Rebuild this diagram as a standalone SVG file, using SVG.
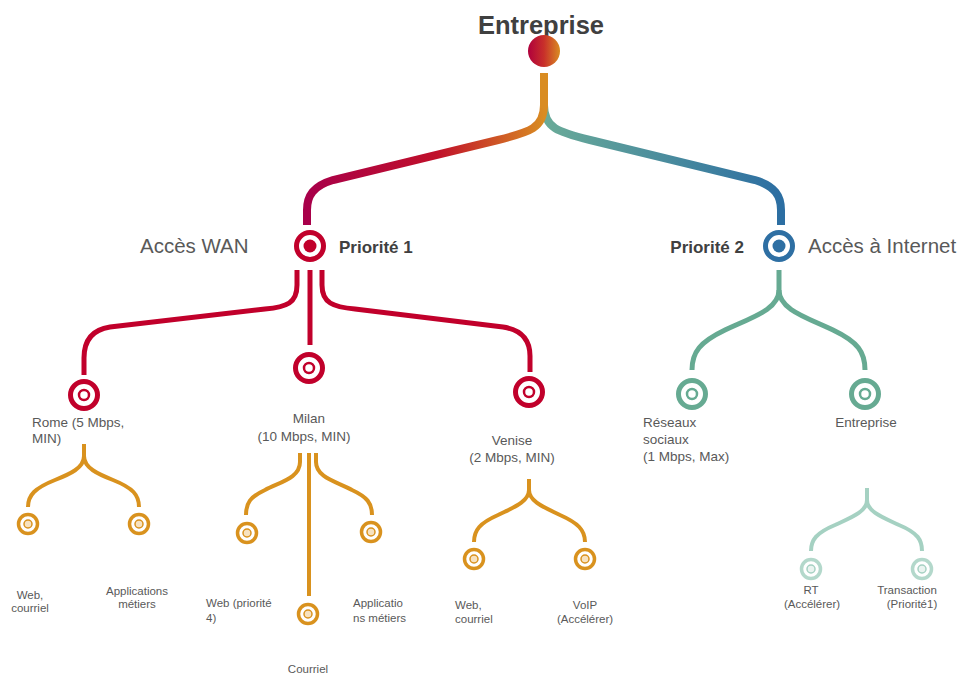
<svg xmlns="http://www.w3.org/2000/svg" width="977" height="675" viewBox="0 0 977 675">
<defs>
<linearGradient id="gTop" x1="0" y1="0" x2="1" y2="0"><stop offset="0" stop-color="#b0003c"/><stop offset="0.5" stop-color="#c8302a"/><stop offset="1" stop-color="#d98c22"/></linearGradient>
<linearGradient id="gLeft" gradientUnits="userSpaceOnUse" x1="544" y1="0" x2="307" y2="0"><stop offset="0" stop-color="#d98c22"/><stop offset="0.45" stop-color="#c0102a"/><stop offset="1" stop-color="#a8004a"/></linearGradient>
<linearGradient id="gRight" gradientUnits="userSpaceOnUse" x1="544" y1="0" x2="781" y2="0"><stop offset="0" stop-color="#6aab98"/><stop offset="1" stop-color="#2c6ea2"/></linearGradient>
</defs>
<style>
text{font-family:"Liberation Sans",Arial,sans-serif;fill:#595959}
.big{font-size:20.5px}
.bold{font-weight:bold;fill:#404040}
.mid{font-size:13.5px}
.sm{font-size:11.5px}
.c{fill:none;stroke-linecap:butt}
.cr{stroke:#c1002b;stroke-width:5}
.te{stroke:#66aa92;stroke-width:5}
.or{stroke:#d9921e;stroke-width:4}
.lt{stroke:#a5d1c2;stroke-width:4}
</style>
<g id="connectors">
<path class="c" d="M544,105 C544,128 558,132 590,140 L755,180 C775,186 781,196 781,210 V225" stroke="url(#gRight)" stroke-width="8"/>
<path class="c" d="M544,105 C544,128 530,132 498,140 L333,180 C313,186 307,196 307,210 V225" stroke="url(#gLeft)" stroke-width="8"/>
<path class="c" d="M544,73 V108" stroke="#d98c22" stroke-width="8"/>
<path class="c cr" d="M297,270 V285 C297,303 287,307 265,309 L110,327 C90,330 84,343 84,358 V375"/>
<path class="c cr" d="M310,270 V345"/>
<path class="c cr" d="M322,270 V285 C322,303 333,307 355,309 L503,327 C523,330 530,341 530,356 V372"/>
<path class="c te" d="M779,270 V290 C779,310 750,318 725,330 C700,342 692,352 692,370"/>
<path class="c te" d="M779,290 C779,310 808,318 833,330 C858,342 865,352 865,370"/>
<path class="c or" d="M84,444 V456 C84,468 70,474 55,480 C35,488 28,495 28,507"/>
<path class="c or" d="M84,456 C84,468 98,474 113,480 C133,488 139,495 139,507"/>
<path class="c or" d="M300,453 V462 C300,478 280,482 265,490 C250,497 246,503 246,515"/>
<path class="c or" d="M309,453 V596"/>
<path class="c or" d="M316,453 V462 C316,478 338,482 352,490 C367,497 372,503 372,515"/>
<path class="c or" d="M529,479 V490 C529,502 512,508 498,515 C480,523 474,530 474,542"/>
<path class="c or" d="M529,490 C529,502 546,508 560,515 C578,523 585,530 585,542"/>
<path class="c lt" d="M867,488 V500 C867,512 850,518 835,525 C816,533 811,540 811,551"/>
<path class="c lt" d="M867,500 C867,512 884,518 899,525 C918,533 922,540 922,551"/>
</g>
<g id="n-root">
<text x="541" y="34" text-anchor="middle" class="bold" style="font-size:25.5px">Entreprise</text>
<circle cx="544" cy="51" r="16" fill="url(#gTop)"/>
</g>
<g id="n-wan">
<circle cx="310" cy="246" r="13.5" fill="#fff" stroke="#c1002b" stroke-width="5"/>
<circle cx="310" cy="246" r="6.5" fill="#c1002b"/>
<text x="140" y="253" class="big">Accès WAN</text>
<text x="339" y="253" class="bold" style="font-size:17px">Priorité 1</text>
</g>
<g id="n-internet">
<circle cx="779" cy="246" r="13.5" fill="#fff" stroke="#2e6fa3" stroke-width="5"/>
<circle cx="779" cy="246" r="6.5" fill="#2e6fa3"/>
<text x="744" y="253" text-anchor="end" class="bold" style="font-size:17px">Priorité 2</text>
<text x="808" y="253" class="big">Accès à Internet</text>
</g>
<g id="n-rome">
<circle cx="84" cy="395" r="13.5" fill="#fff" stroke="#c1002b" stroke-width="5"/>
<circle cx="84" cy="395" r="5" fill="none" stroke="#c1002b" stroke-width="2.5"/>
<text x="32" y="427" class="mid">Rome (5 Mbps,</text>
<text x="32" y="443" class="mid">MIN)</text>
</g>
<g id="n-milan">
<circle cx="309" cy="368" r="13.5" fill="#fff" stroke="#c1002b" stroke-width="5"/>
<circle cx="309" cy="368" r="5" fill="none" stroke="#c1002b" stroke-width="2.5"/>
<text x="309" y="423" text-anchor="middle" class="mid">Milan</text>
<text x="304" y="441" text-anchor="middle" class="mid">(10 Mbps, MIN)</text>
</g>
<g id="n-venise">
<circle cx="529" cy="392" r="13.5" fill="#fff" stroke="#c1002b" stroke-width="5"/>
<circle cx="529" cy="392" r="5" fill="none" stroke="#c1002b" stroke-width="2.5"/>
<text x="512" y="445" text-anchor="middle" class="mid">Venise</text>
<text x="512" y="462" text-anchor="middle" class="mid">(2 Mbps, MIN)</text>
</g>
<g id="n-reseaux">
<circle cx="692" cy="394" r="13.5" fill="#fff" stroke="#66aa92" stroke-width="5"/>
<circle cx="692" cy="394" r="5" fill="none" stroke="#66aa92" stroke-width="2.5"/>
<text x="643" y="427" class="mid">Réseaux</text>
<text x="643" y="444" class="mid">sociaux</text>
<text x="643" y="461" class="mid">(1 Mbps, Max)</text>
</g>
<g id="n-entreprise2">
<circle cx="865" cy="394" r="13.5" fill="#fff" stroke="#66aa92" stroke-width="5"/>
<circle cx="865" cy="394" r="5" fill="none" stroke="#66aa92" stroke-width="2.5"/>
<text x="866" y="427" text-anchor="middle" class="mid">Entreprise</text>
</g>
<g id="n-rome-web">
<circle cx="28" cy="524" r="9.5" fill="#fff" stroke="#d9921e" stroke-width="3.5"/>
<circle cx="28" cy="524" r="4" fill="#f7e2c0" stroke="#d9921e" stroke-width="1.5"/>
<text x="30" y="599" text-anchor="middle" class="sm">Web,</text>
<text x="30" y="612" text-anchor="middle" class="sm">courriel</text>
</g>
<g id="n-rome-app">
<circle cx="139" cy="524" r="9.5" fill="#fff" stroke="#d9921e" stroke-width="3.5"/>
<circle cx="139" cy="524" r="4" fill="#f7e2c0" stroke="#d9921e" stroke-width="1.5"/>
<text x="137" y="595" text-anchor="middle" class="sm">Applications</text>
<text x="137" y="608" text-anchor="middle" class="sm">métiers</text>
</g>
<g id="n-milan-web">
<circle cx="247" cy="533" r="9.5" fill="#fff" stroke="#d9921e" stroke-width="3.5"/>
<circle cx="247" cy="533" r="4" fill="#f7e2c0" stroke="#d9921e" stroke-width="1.5"/>
<text x="206" y="607" class="sm">Web (priorité</text>
<text x="206" y="622" class="sm">4)</text>
</g>
<g id="n-milan-courriel">
<circle cx="308" cy="614" r="9.5" fill="#fff" stroke="#d9921e" stroke-width="3.5"/>
<circle cx="308" cy="614" r="4" fill="#f7e2c0" stroke="#d9921e" stroke-width="1.5"/>
<text x="308" y="673" text-anchor="middle" class="sm">Courriel</text>
</g>
<g id="n-milan-app">
<circle cx="371" cy="532" r="9.5" fill="#fff" stroke="#d9921e" stroke-width="3.5"/>
<circle cx="371" cy="532" r="4" fill="#f7e2c0" stroke="#d9921e" stroke-width="1.5"/>
<text x="353" y="607" class="sm">Applicatio</text>
<text x="353" y="622" class="sm">ns métiers</text>
</g>
<g id="n-venise-web">
<circle cx="474" cy="559" r="9.5" fill="#fff" stroke="#d9921e" stroke-width="3.5"/>
<circle cx="474" cy="559" r="4" fill="#f7e2c0" stroke="#d9921e" stroke-width="1.5"/>
<text x="455" y="609" class="sm">Web,</text>
<text x="455" y="623" class="sm">courriel</text>
</g>
<g id="n-venise-voip">
<circle cx="585" cy="559" r="9.5" fill="#fff" stroke="#d9921e" stroke-width="3.5"/>
<circle cx="585" cy="559" r="4" fill="#f7e2c0" stroke="#d9921e" stroke-width="1.5"/>
<text x="585" y="609" text-anchor="middle" class="sm">VoIP</text>
<text x="585" y="623" text-anchor="middle" class="sm">(Accélérer)</text>
</g>
<g id="n-rt">
<circle cx="811" cy="569" r="9.5" fill="#fff" stroke="#b3d8cb" stroke-width="3.5"/>
<circle cx="811" cy="569" r="4" fill="#eaf4f0" stroke="#a5d1c2" stroke-width="1.5"/>
<text x="811" y="594" text-anchor="middle" class="sm">RT</text>
<text x="812" y="608" text-anchor="middle" class="sm">(Accélérer)</text>
</g>
<g id="n-transaction">
<circle cx="922" cy="569" r="9.5" fill="#fff" stroke="#b3d8cb" stroke-width="3.5"/>
<circle cx="922" cy="569" r="4" fill="#eaf4f0" stroke="#a5d1c2" stroke-width="1.5"/>
<text x="907" y="594" text-anchor="middle" class="sm">Transaction</text>
<text x="912" y="608" text-anchor="middle" class="sm">(Priorité1)</text>
</g>
</svg>
